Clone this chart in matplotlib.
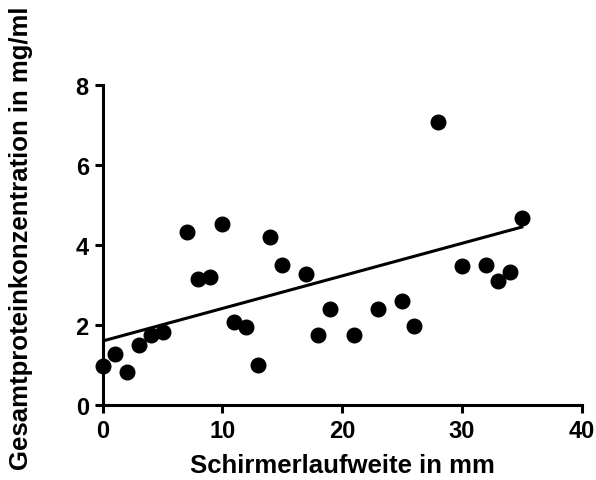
import numpy as np
import matplotlib.pyplot as plt

schirmer_mm = [0, 1, 2, 3, 4, 5, 7, 8, 9, 10, 11, 12, 13, 14, 15, 17, 18, 19,
               21, 23, 25, 26, 28, 30, 32, 33, 34, 35]
protein_mg_ml = [0.98, 1.27, 0.83, 1.50, 1.75, 1.83, 4.33, 3.14, 3.21, 4.53,
                 2.08, 1.96, 0.99, 4.19, 3.51, 3.28, 1.74, 2.41,
                 1.76, 2.41, 2.59, 1.97, 7.08, 3.48, 3.50, 3.10, 3.33, 4.68]

fit_x = [0, 35]
fit_y = [1.60, 4.45]

xticks = [0, 10, 20, 30, 40]
yticks = [0, 2, 4, 6, 8]

plt.rcParams['font.family'] = ['Liberation Sans', 'DejaVu Sans']
plt.rcParams['font.weight'] = 'bold'

fig = plt.figure(figsize=(5.96, 4.81), dpi=100)
ax = fig.add_axes([0.1723, 0.156, 0.8037, 0.665])

ax.plot(schirmer_mm, protein_mg_ml, 'o', color='black', markersize=10.5,
        clip_on=False, zorder=3)
ax.plot(fit_x, fit_y, '-', color='black', linewidth=2.2, zorder=2)

ax.set_xlim(0, 40)
ax.set_ylim(0, 8)
ax.set_xticks(xticks)
ax.set_yticks(yticks)

for side in ['top', 'right']:
    ax.spines[side].set_visible(False)
for side in ['left', 'bottom']:
    ax.spines[side].set_linewidth(2.2)

ax.tick_params(axis='both', direction='out', length=6, width=2.2,
               labelsize=17, pad=4)
for lab in ax.get_xticklabels() + ax.get_yticklabels():
    lab.set_fontweight('bold')

ax.set_xlabel('Schirmerlaufweite in mm', fontsize=18.5, fontweight='bold', labelpad=8)
ax.set_ylabel('Gesamtproteinkonzentration in mg/ml', fontsize=18.5,
              fontweight='bold')
ax.yaxis.set_label_coords(-0.145, 0.525)

plt.savefig('out.png', dpi=100)
